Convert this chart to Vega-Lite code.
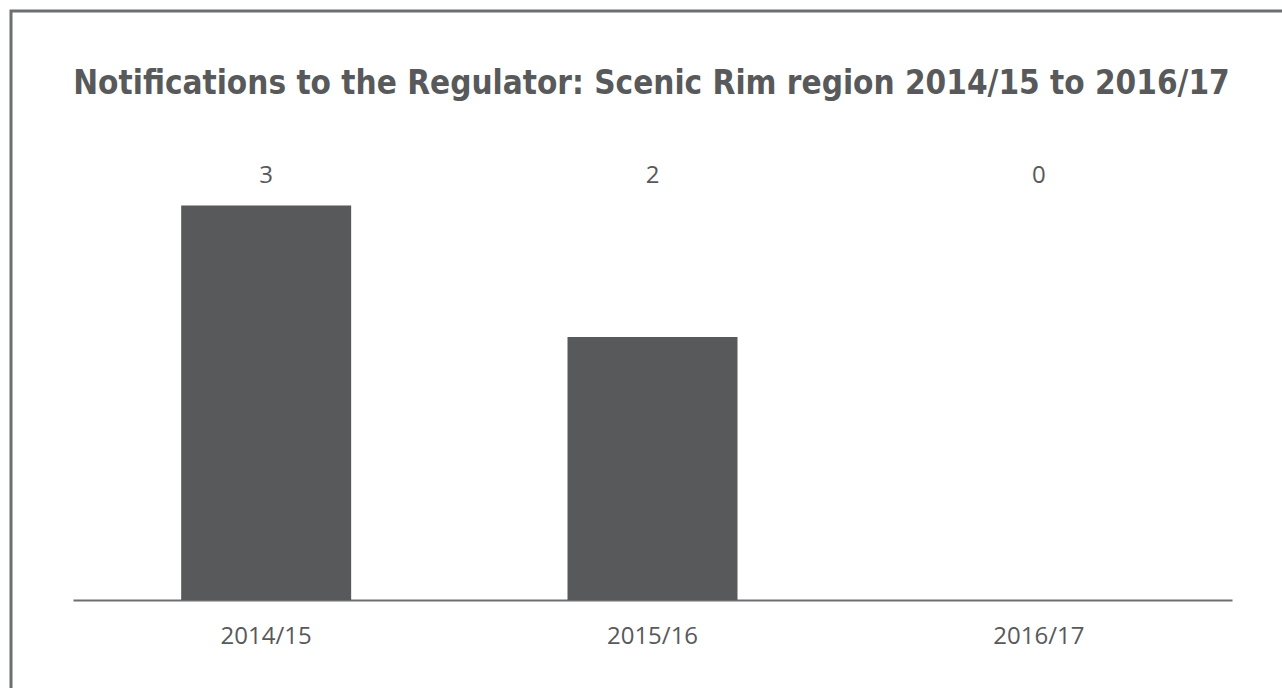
{
  "$schema": "https://vega.github.io/schema/vega-lite/v6.json",
  "autosize": {"type": "none"},
  "width": 1281,
  "height": 700,
  "padding": {"left": 11, "top": 11, "right": -10, "bottom": -23},
  "background": "white",
  "view": {"stroke": "#6d6e71", "strokeWidth": 3, "fill": "white"},
  "title": {
    "text": "Notifications to the Regulator: Scenic Rim region 2014/15 to 2016/17",
    "font": "DejaVu Sans Condensed",
    "fontWeight": "bold",
    "fontSize": 33,
    "color": "#58595b",
    "anchor": "middle",
    "frame": "group",
    "offset": -116,
    "baseline": "alphabetic"
  },
  "data": {
    "values": [
      {"year": "2014/15", "count": 3},
      {"year": "2015/16", "count": 2},
      {"year": "2016/17", "count": 0}
    ]
  },
  "encoding": {
    "x": {
      "field": "year",
      "type": "nominal",
      "sort": null,
      "scale": {"range": [62, 1221], "paddingInner": 0.56, "paddingOuter": 0.28},
      "axis": {
        "title": null,
        "orient": "bottom",
        "offset": -111,
        "domainColor": "#6d6e71",
        "domainWidth": 2,
        "ticks": false,
        "grid": false,
        "labelAngle": 0,
        "labelFont": "Open Sans",
        "labelFontSize": 24,
        "labelColor": "#58595b",
        "labelPadding": 24
      }
    }
  },
  "layer": [
    {
      "mark": {"type": "bar", "color": "#58595b"},
      "encoding": {
        "y": {
          "field": "count",
          "type": "quantitative",
          "scale": {"domain": [0, 4.48], "range": [589, 0], "nice": false, "zero": true},
          "axis": null
        }
      }
    },
    {
      "mark": {"type": "text", "font": "Open Sans", "fontSize": 24, "color": "#58595b", "baseline": "alphabetic"},
      "encoding": {
        "y": {"datum": 3.17, "type": "quantitative", "axis": null},
        "text": {"field": "count", "type": "quantitative"}
      }
    }
  ]
}
